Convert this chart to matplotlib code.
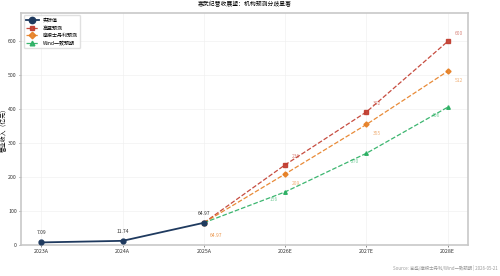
import matplotlib
matplotlib.use("Agg")
import matplotlib.pyplot as plt

plt.rcParams['font.family'] = ['Noto Sans CJK SC', 'DejaVu Sans']

years = ['2023A', '2024A', '2025A', '2026E', '2027E', '2028E']
actual = [7.09, 11.74, 64.97]
high = [64.97, 236, 392, 600]
base = [64.97, 209, 355, 512]
wind = [64.97, 156, 270, 406]

c_act = '#1f3a5f'
c_high = '#c0392b'
c_base = '#e67e22'
c_wind = '#27ae60'

fig = plt.figure(figsize=(5, 2.76), dpi=100)
ax = fig.add_axes([0.042, 0.113, 0.894, 0.84])

xa = list(range(3))
xf = list(range(2, 6))
ax.plot(xa, actual, color=c_act, lw=1.3, marker='o', ms=3.5, label='实际值', zorder=5)
ax.plot(xf, high, color=c_high, lw=0.9, ls='--', marker='s', ms=2.6, label='高盛预测', alpha=0.9)
ax.plot(xf, base, color=c_base, lw=0.9, ls='--', marker='D', ms=2.6, label='摩根士丹利预测', alpha=0.9)
ax.plot(xf, wind, color=c_wind, lw=0.9, ls='--', marker='^', ms=2.6, label='Wind一致预期', alpha=0.9)

fs = 3.6
for x, v in zip(xa, actual):
    ax.annotate(f'{v:.2f}', (x, v), xytext=(0, 5), textcoords='offset points',
                ha='center', va='bottom', fontsize=fs, color='#333333')
ax.annotate(f'{actual[-1]:.2f}', (2, actual[-1]), xytext=(4, -7), textcoords='offset points',
            ha='left', va='top', fontsize=fs, color=c_base, alpha=0.8)
for x, v in zip(xf[1:], high[1:]):
    ax.annotate(f'{v:.0f}', (x, v), xytext=(5, 4), textcoords='offset points',
                ha='left', va='bottom', fontsize=fs, color=c_high, alpha=0.6)
for x, v in zip(xf[1:], base[1:]):
    ax.annotate(f'{v:.0f}', (x, v), xytext=(5, -5), textcoords='offset points',
                ha='left', va='top', fontsize=fs, color=c_base, alpha=0.6)
for x, v in zip(xf[1:], wind[1:]):
    ax.annotate(f'{v:.0f}', (x, v), xytext=(-5, -4), textcoords='offset points',
                ha='right', va='top', fontsize=fs, color=c_wind, alpha=0.6)

ax.set_xticks(range(len(years)))
ax.set_xticklabels(years)
ax.set_xlim(-0.25, 5.25)
ax.set_ylim(0, 684)
ax.set_yticks(range(0, 700, 100))
ax.tick_params(labelsize=3.8, length=1.5, width=0.4, pad=1.5, colors='#333333')
ax.grid(True, color='#eeeeee', lw=0.4)
ax.set_axisbelow(True)
for s in ax.spines.values():
    s.set_color('#c8c8c8')
    s.set_linewidth(1.2)

ax.set_ylabel('营业收入（亿元）', fontsize=4.2, labelpad=1)
ax.set_title('寒武纪营收展望：机构预测分歧显著', fontsize=4.2, pad=5)
ax.legend(loc='upper left', fontsize=3.6, frameon=True, framealpha=0.9,
          edgecolor='#dddddd', borderpad=0.5, handlelength=2.5, labelspacing=0.5,
          markerscale=1.3)

fig.text(0.995, 0.018, 'Source: 高盛/摩根士丹利/Wind一致预期 | 2026-05-21', ha='right',
         va='bottom', fontsize=3.2, color='#999999')

fig.savefig('out.png', dpi=100)
